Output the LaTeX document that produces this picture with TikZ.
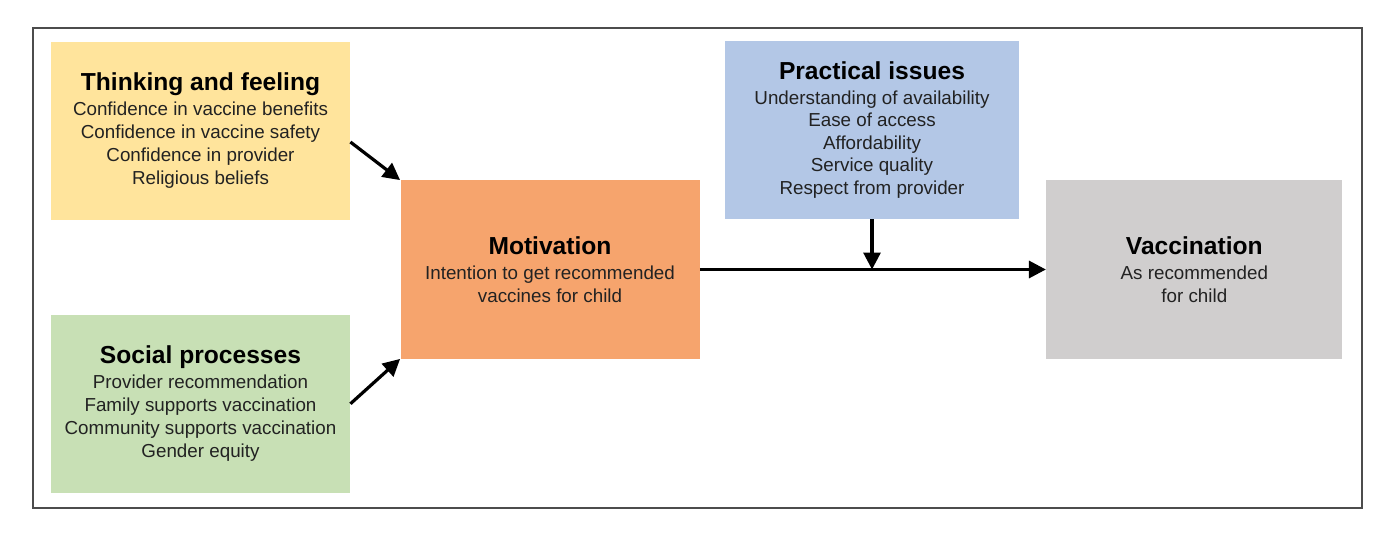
\documentclass[tikz,border=0pt]{standalone}
\usepackage{fontspec}
\setmainfont{Liberation Sans}
\usetikzlibrary{positioning,calc,arrows.meta}

\definecolor{thinkfill}{HTML}{FFE49C}
\definecolor{socialfill}{HTML}{C8E0B5}
\definecolor{motivfill}{HTML}{F6A46D}
\definecolor{practfill}{HTML}{B3C7E6}
\definecolor{vaccfill}{HTML}{D0CECE}
\definecolor{bodytext}{HTML}{222222}

\newcommand{\boxtitle}[1]{{\fontsize{12.3}{14}\selectfont\bfseries\color{black}#1}}

\tikzset{
  box/.style={rectangle, inner sep=0pt, align=center, text=bodytext,
    minimum width=149.5pt, minimum height=89pt,
    font=\fontsize{9.4}{11.5}\selectfont},
  link/.style={line width=1.6pt, -{Triangle[length=8.5pt,width=8.5pt]}},
  frame/.style={draw=black!70, line width=0.75pt}
}

\begin{document}
\begin{tikzpicture}[x=0.5pt,y=-0.5pt]
  \useasboundingbox (0,0) rectangle (1400,534);
  \draw[frame] (33,28) rectangle (1362,508);

  % determinants
  \node[box, fill=thinkfill] (think) at (200.5,131)
    {\boxtitle{Thinking and feeling}\\[1pt]
     Confidence in vaccine benefits\\
     Confidence in vaccine safety\\
     Confidence in provider\\
     Religious beliefs};
  \node[box, fill=socialfill, below=47pt of think] (social)
    {\boxtitle{Social processes}\\[1pt]
     Provider recommendation\\
     Family supports vaccination\\
     Community supports vaccination\\
     Gender equity};
  \node[box, fill=motivfill] (motiv) at (550,269.5)
    {\boxtitle{Motivation}\\[1pt]
     Intention to get recommended\\
     vaccines for child};
  \node[box, fill=practfill, minimum width=147pt, font=\fontsize{9.4}{11.25}\selectfont] (pract) at (872,130)
    {\boxtitle{Practical issues}\\[1pt]
     Understanding of availability\\
     Ease of access\\
     Affordability\\
     Service quality\\
     Respect from provider};
  \node[box, fill=vaccfill, minimum width=148pt, right=173pt of motiv] (vacc)
    {\boxtitle{Vaccination}\\[1pt]
     As recommended\\
     for child};

  % arrows
  \coordinate (join) at (pract.south |- motiv.east);
  \draw[link] ($(think.east)+(0,11)$) -- (motiv.north west);
  \draw[link] (social.east) -- (motiv.south west);
  \draw[link] (motiv.east) -- (vacc.west);
  \draw[link] (pract.south) -- (join);
\end{tikzpicture}
\end{document}
